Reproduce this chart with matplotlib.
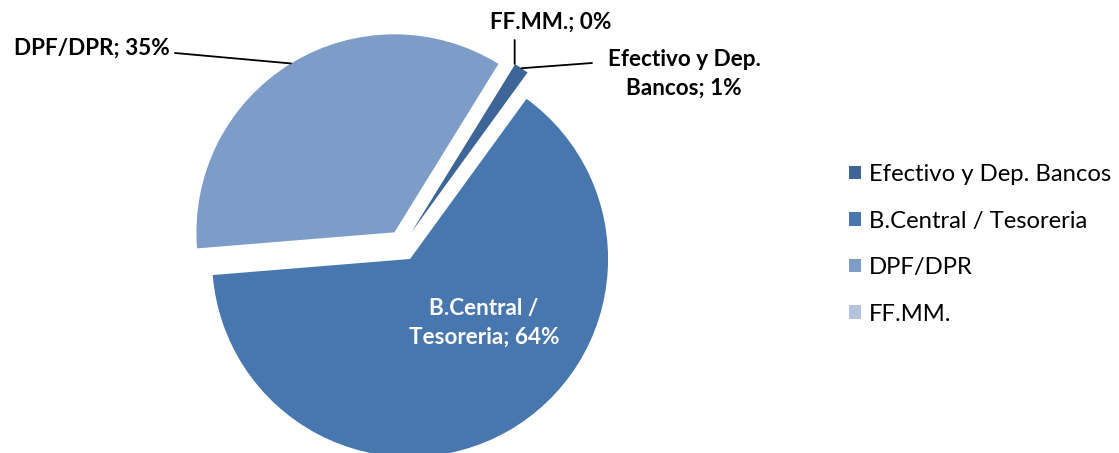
import matplotlib
matplotlib.use("Agg")
import matplotlib.pyplot as plt
import numpy as np

categories = ["Efectivo y Dep. Bancos", "B.Central / Tesoreria", "DPF/DPR", "FF.MM."]
label_names = ["Efectivo y Dep.\nBancos", "B.Central /\nTesoreria", "DPF/DPR", "FF.MM."]
shares = [1.2, 63.7, 35.1, 0.0]
colors = ["#3d6597", "#4877b0", "#7e9cc8", "#b4c4df"]

plt.rcParams['font.family'] = ['Lato', 'DejaVu Sans']

W, H = 1119, 453
fig = plt.figure(figsize=(W / 100, H / 100), dpi=100)
ax = fig.add_axes([0, 0, 1, 1])
S = 198.0
CX, CY = 402.5, 245.5


def P(px, py):
    return ((px - CX) / S, (CY - py) / S)


wedges, _ = ax.pie(shares, colors=colors, startangle=58.3, counterclock=False,
                   explode=[0.078] * len(shares), radius=1.0,
                   wedgeprops=dict(linewidth=0))
ax.set_xlim(-CX / S, (W - CX) / S)
ax.set_ylim(-(H - CY) / S, CY / S)
ax.set_aspect('auto')
ax.axis('off')


def arc_mid(w):
    t = np.deg2rad((w.theta1 + w.theta2) / 2)
    cx, cy = w.center
    return (cx + w.r * np.cos(t), cy + w.r * np.sin(t))


def lab(i):
    return f"{label_names[i]}; {round(shares[i]):.0f}%"


fs = 16.2
line_kw = dict(arrowstyle='-', color='black', lw=1.3, shrinkA=0, shrinkB=0)
# Efectivo
ax.text(*P(684, 74), lab(0), ha='center', va='center',
        fontsize=fs, fontweight='bold', color='black', multialignment='center',
        linespacing=1.45)
ax.annotate("", xy=arc_mid(wedges[0]), xytext=P(592, 63), arrowprops=line_kw)
# B.Central
ax.text(*P(484, 323), lab(1), ha='center', va='center', fontsize=fs, fontweight='bold',
        color='white', multialignment='center', linespacing=1.45)
# DPF
ax.text(*P(170, 48), lab(2), ha='right', va='center', fontsize=fs, fontweight='bold', color='black')
ax.annotate("", xy=arc_mid(wedges[2]), xytext=P(175, 53), arrowprops=line_kw)
# FF.MM.
ax.text(*P(551, 22), lab(3), ha='center', va='center', fontsize=fs, fontweight='bold', color='black')
mx, my = arc_mid(wedges[3])
ax.annotate("", xy=(mx, my), xytext=(mx, P(0, 40)[1]), arrowprops=line_kw)

leg = ax.legend(wedges, categories, loc='upper left', bbox_to_anchor=(849 / W, 1 - 164 / H),
                bbox_transform=fig.transFigure, frameon=False, fontsize=17.2,
                handlelength=0.5, handleheight=0.5, handletextpad=0.33, labelspacing=1.07,
                borderaxespad=0, borderpad=0)

fig.savefig("out.png", dpi=100)
